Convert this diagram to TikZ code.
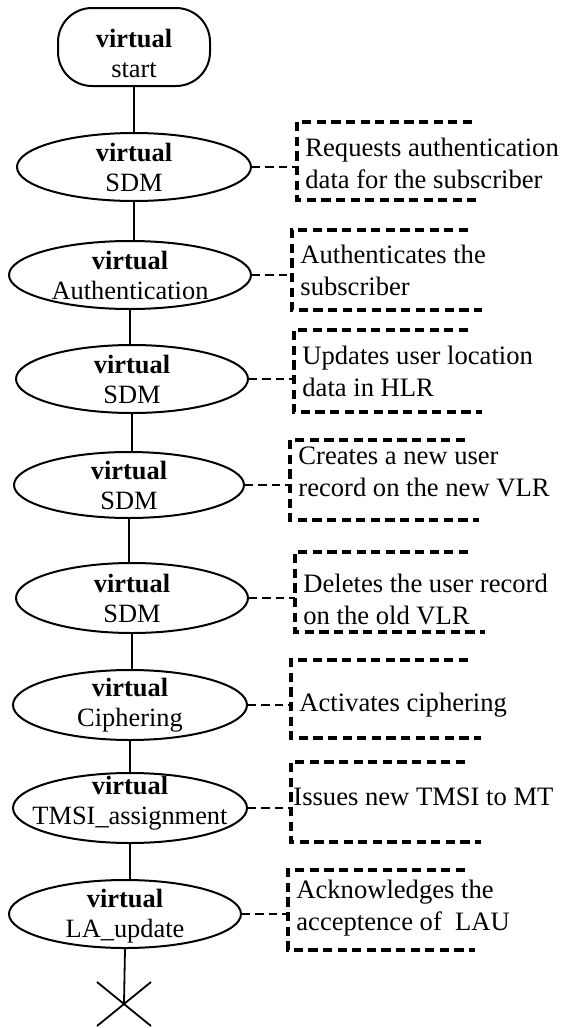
\documentclass[tikz,border=0pt]{standalone}
\usepackage{fontspec}
\setmainfont{Liberation Serif}
\usetikzlibrary{shapes.geometric}
\begin{document}
\begin{tikzpicture}[x=0.5pt,y=-0.5pt,
 ev/.style={draw, ellipse, line width=1pt, inner sep=0pt},
 lbl/.style={align=center, inner sep=0pt, font=\fontsize{13.2}{15}\selectfont},
 notetxt/.style={align=left, anchor=west, inner sep=0pt, font=\fontsize{13.3}{16}\selectfont},
 notebox/.style={line width=1.6pt, dash pattern=on 4.6pt off 2.7pt},
 link/.style={line width=1.4pt, dash pattern=on 4.2pt off 2.5pt},
 flow/.style={line width=0.9pt}]
\useasboundingbox (0,0) rectangle (562,1028);

% start
\node[draw, rounded corners=17pt, line width=1pt, minimum width=76pt, minimum height=39pt, inner sep=0pt] (start) at (134,47) {};
\node[lbl] (startt) at (134,53) {\textbf{virtual}\\start};

% ellipses
\node[ev, minimum width=117pt, minimum height=34pt] (e1) at (134,167) {};
\node[lbl] (e1t) at (e1) {\textbf{virtual}\\SDM};
\node[ev, minimum width=121pt, minimum height=34pt] (e2) at (130,275) {};
\node[lbl] (e2t) at (e2) {\textbf{virtual}\\Authentication};
\node[ev, minimum width=116pt, minimum height=34pt] (e3) at (132,379) {};
\node[lbl] (e3t) at (e3) {\textbf{virtual}\\SDM};
\node[ev, minimum width=115pt, minimum height=33pt] (e4) at (129,485) {};
\node[lbl] (e4t) at (e4) {\textbf{virtual}\\SDM};
\node[ev, minimum width=116pt, minimum height=35pt] (e5) at (132,598) {};
\node[lbl] (e5t) at (e5) {\textbf{virtual}\\SDM};
\node[ev, minimum width=117pt, minimum height=35pt] (e6) at (130,705) {};
\node[lbl] (e6t) at (e6) {\textbf{virtual}\\Ciphering};
\node[ev, minimum width=117pt, minimum height=35pt] (e7) at (130,808) {};
\node[lbl] (e7t) at (130,803) {\textbf{virtual}\\TMSI\_assignment};
\node[ev, minimum width=116pt, minimum height=34pt] (e8) at (125,914) {};
\node[lbl] (e8t) at (125,916) {\textbf{virtual}\\LA\_update};

% end cross
\coordinate (x) at (124,1003);
\draw[flow] (97,982) -- (151,1026);
\draw[flow] (97,1026) -- (151,982);

% flow lines
\draw[flow] (start.south) -- (start.south |- e1.north);
\draw[flow] (e1.south) -- (e1.south |- e2.north);
\draw[flow] (e2.south) -- (e2.south |- e3.north);
\draw[flow] (e3.south) -- (e3.south |- e4.north);
\draw[flow] (e4.south) -- (e4.south |- e5.north);
\draw[flow] (e5.south) -- (e5.south |- e6.north);
\draw[flow] (e6.south) -- (e6.south |- e7.north);
\draw[flow] (e7.south) -- (e7.south |- e8.north);
\draw[flow] (e8.south) -- (x);

% notes
\coordinate (n1) at (297,122);
\draw[notebox] (472,122) -- (n1) -- (297,200) -- (476,200);
\node[notetxt] (t1) at (305,163) {Requests authentication\\data for the subscriber};
\draw[link] (e1.east) -- (e1.east -| n1);

\coordinate (n2) at (292,230);
\draw[notebox] (468,230) -- (n2) -- (292,310) -- (482,310);
\node[notetxt] (t2) at (300,270) {Authenticates the\\subscriber};
\draw[link] (e2.east) -- (e2.east -| n2);

\coordinate (n3) at (294,330);
\draw[notebox] (468,330) -- (n3) -- (294,412) -- (482,412);
\node[notetxt] (t3) at (302,371) {Updates user location\\data in HLR};
\draw[link] (e3.east) -- (e3.east -| n3);

\coordinate (n4) at (290,440);
\draw[notebox] (465,440) -- (n4) -- (290,520) -- (479,520);
\node[notetxt] (t4) at (298,472) {Creates a new user\\record on the new VLR};
\draw[link] (e4.east) -- (e4.east -| n4);

\coordinate (n5) at (295,552);
\draw[notebox] (468,552) -- (n5) -- (295,632) -- (485,632);
\node[notetxt] (t5) at (303,599) {Deletes the user record\\on the old VLR};
\draw[link] (e5.east) -- (e5.east -| n5);

\coordinate (n6) at (291,660);
\draw[notebox] (468,660) -- (n6) -- (291,738) -- (481,738);
\node[notetxt] (t6) at (299,705) {Activates ciphering};
\draw[link] (e6.east) -- (e6.east -| n6);

\coordinate (n7) at (291,762);
\draw[notebox] (465,762) -- (n7) -- (291,842) -- (481,842);
\node[notetxt] (t7) at (293,797) {Issues new TMSI to MT};
\draw[link] (e7.east) -- (e7.east -| n7);

\coordinate (n8) at (288,870);
\draw[notebox] (465,870) -- (n8) -- (288,950) -- (475,950);
\node[notetxt] (t8) at (296,908) {Acknowledges the\\acceptence of~ LAU};
\draw[link] (e8.east) -- (e8.east -| n8);
\end{tikzpicture}
\end{document}
